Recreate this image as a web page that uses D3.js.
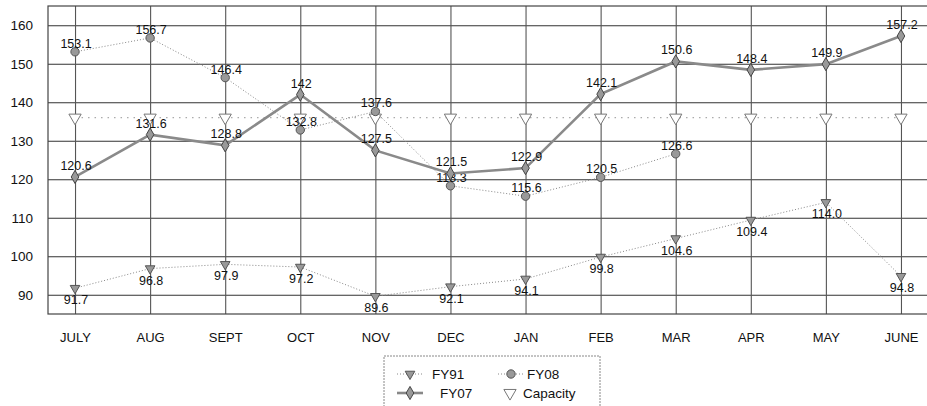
<!DOCTYPE html>
<html>
<head>
<meta charset="utf-8">
<script src="https://cdn.jsdelivr.net/npm/d3@7"></script>
<style>
  body { margin: 0; background: #fff; }
  svg { display: block; font-family: "Liberation Sans", Arial, sans-serif; }
</style>
</head>
<body>
<svg id="chart" width="927" height="406"></svg>
<script>
// chart data
const months = ["JULY", "AUG", "SEPT", "OCT", "NOV", "DEC", "JAN", "FEB", "MAR", "APR", "MAY", "JUNE"];
const fy91 = [91.7, 96.8, 97.9, 97.2, 89.6, 92.1, 94.1, 99.8, 104.6, 109.4, 114.0, 94.8];
const fy08 = [153.1, 156.7, 146.4, 132.8, 137.6, 118.3, 115.6, 120.5, 126.6];
const fy07 = [120.6, 131.6, 128.8, 142, 127.5, 121.5, 122.9, 142.1, 150.6, 148.4, 149.9, 157.2];
const capacity = [136, 136, 136, 136, 136, 136, 136, 136, 136, 136, 136, 136];
const yTicks = [90, 100, 110, 120, 130, 140, 150, 160];

const svg = d3.select("#chart");
const plot = {left: 48, right: 928, top: 6, bottom: 314};

let x = d3.scalePoint()
    .domain(months)
    .range([plot.left, plot.right])
    .padding(0.36);

let y = d3.scaleLinear()
    .domain([85, 165])
    .range([plot.bottom, plot.top]);

// horizontal grid lines + y labels
let yAxis = d3.axisLeft(y)
    .tickValues(yTicks)
    .tickSize(-(plot.right - plot.left))
    .tickPadding(15);
let gy = svg.append("g")
    .attr("transform", `translate(${plot.left},0)`)
    .call(yAxis);
gy.select(".domain").remove();
gy.selectAll(".tick line").attr("stroke", "#333").attr("stroke-width", 1.1);
gy.selectAll(".tick text")
    .attr("font-size", 13.5)
    .attr("fill", "#111")
    .attr("font-family", "Liberation Sans, Arial, sans-serif");

// vertical grid lines at each month + month labels
let xAxis = d3.axisBottom(x)
    .tickSize(-(plot.bottom - plot.top))
    .tickPadding(19);
let gx = svg.append("g")
    .attr("transform", `translate(0,${plot.bottom})`)
    .call(xAxis);
gx.select(".domain").remove();
gx.selectAll(".tick line").attr("stroke", "#555").attr("stroke-width", 1.1);
gx.selectAll(".tick text")
    .attr("font-size", 13)
    .attr("fill", "#111")
    .attr("font-family", "Liberation Sans, Arial, sans-serif");

// plot frame
svg.append("rect")
    .attr("x", plot.left).attr("y", plot.top)
    .attr("width", plot.right - plot.left).attr("height", plot.bottom - plot.top)
    .attr("fill", "none")
    .attr("stroke", "#444")
    .attr("stroke-width", 1.2);

// marker shapes
const triSmall = d3.symbol().type(d3.symbolTriangle).size(40)();
const triBig = d3.symbol().type(d3.symbolTriangle).size(65)();
const diamond = d3.symbol().type(d3.symbolDiamond).size(50)();
const circle = d3.symbol().type(d3.symbolCircle).size(55)();

let line = d3.line()
    .x((d, i) => x(months[i]))
    .y(d => y(d));

// one series: line, markers, optional labels
function drawSeries(data, opts) {
    let g = svg.append("g");
    g.append("path")
        .datum(data)
        .attr("d", line)
        .attr("fill", "none")
        .attr("stroke", opts.stroke)
        .attr("stroke-width", opts.width)
        .attr("stroke-dasharray", opts.dash || null);

    g.selectAll(".m")
        .data(data)
        .enter().append("path")
        .attr("class", "m")
        .attr("d", opts.shape)
        .attr("transform", (d, i) =>
            `translate(${x(months[i])},${y(d)})` + (opts.flip ? " rotate(180)" : ""))
        .attr("fill", opts.fill)
        .attr("stroke", opts.mstroke)
        .attr("stroke-width", 1);

    if (opts.labels) {
        g.selectAll(".lbl")
            .data(data)
            .enter().append("text")
            .attr("class", "lbl")
            .attr("x", (d, i) => x(months[i]) + 1)
            .attr("y", d => y(d) + opts.dy)
            .attr("text-anchor", "middle")
            .attr("font-size", 12.5)
            .attr("fill", "#111")
            .text(d => opts.fmt(d));
    }
}

// capacity: dotted line with hollow triangles, no labels
drawSeries(capacity, {
    stroke: "#aaa", width: 1.2, dash: "1.5,5",
    shape: triBig, flip: true, fill: "#fff", mstroke: "#777"
});

// FY91: dotted line, filled triangles, labels below
drawSeries(fy91, {
    stroke: "#888", width: 1, dash: "1,2",
    shape: triSmall, flip: true, fill: "#999", mstroke: "#555",
    labels: true, dy: 16, fmt: d3.format(".1f")
});

// FY08: dotted line, gray circles, labels above
drawSeries(fy08, {
    stroke: "#888", width: 1, dash: "1,2",
    shape: circle, fill: "#999", mstroke: "#555",
    labels: true, dy: -4, fmt: d => String(d)
});

// FY07: thick solid gray line, diamonds, labels above
drawSeries(fy07, {
    stroke: "#8a8a8a", width: 2.6,
    shape: diamond, fill: "#999", mstroke: "#444",
    labels: true, dy: -7, fmt: d => String(d)
});

// legend
let legend = svg.append("g");
legend.append("rect")
    .attr("x", 384).attr("y", 356)
    .attr("width", 216).attr("height", 60)
    .attr("fill", "#fff")
    .attr("stroke", "#888")
    .attr("stroke-dasharray", "2,1");

const legendItems = [
    {name: "FY91", cx: 410, cy: 374, tx: 432, dash: "1,2", lw: 1, shape: triSmall, flip: true, fill: "#999", ms: "#555"},
    {name: "FY08", cx: 511, cy: 374, tx: 527, dash: "1,2", lw: 1, shape: circle, fill: "#999", ms: "#555"},
    {name: "FY07", cx: 410, cy: 393, tx: 440, dash: null, lw: 2.6, shape: diamond, fill: "#999", ms: "#444"},
    {name: "Capacity", cx: 510, cy: 393, tx: 523, noLine: true, shape: triBig, flip: true, fill: "#fff", ms: "#777"}
];

legendItems.forEach(it => {
    if (!it.noLine)
        legend.append("line")
            .attr("x1", it.cx - 13).attr("x2", it.cx + 13)
            .attr("y1", it.cy).attr("y2", it.cy)
            .attr("stroke", "#888")
            .attr("stroke-width", it.lw)
            .attr("stroke-dasharray", it.dash);
    legend.append("path")
        .attr("d", it.shape)
        .attr("transform", `translate(${it.cx},${it.cy})` + (it.flip ? " rotate(180)" : ""))
        .attr("fill", it.fill)
        .attr("stroke", it.ms);
    legend.append("text")
        .attr("x", it.tx).attr("y", it.cy + 5)
        .attr("font-size", 13.5)
        .attr("fill", "#111")
        .text(it.name);
});
</script>
</body>
</html>
